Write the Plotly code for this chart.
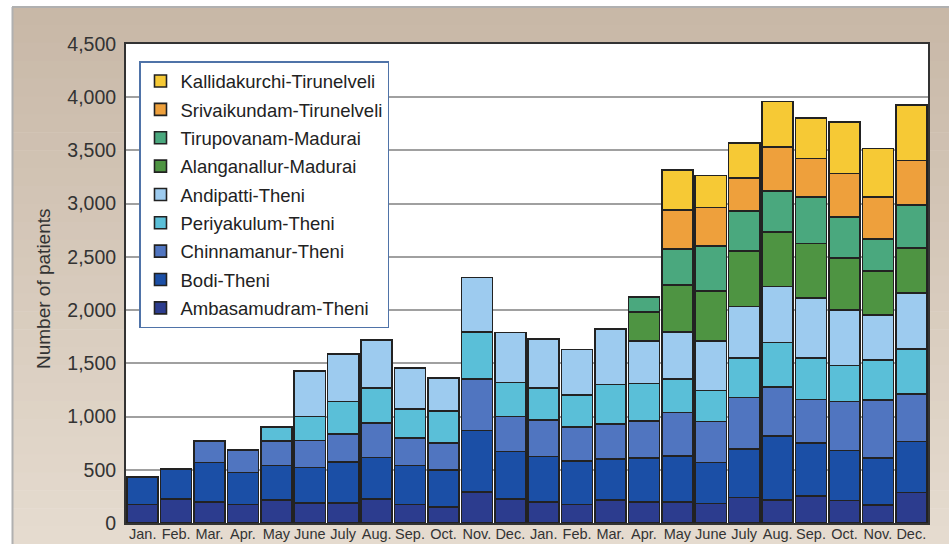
import plotly.graph_objects as go

months = ["Jan.", "Feb.", "Mar.", "Apr.", "May", "June", "July", "Aug.", "Sep.", "Oct.", "Nov.", "Dec.",
          "Jan.", "Feb.", "Mar.", "Apr.", "May", "June", "July", "Aug.", "Sep.", "Oct.", "Nov.", "Dec."]

ambasamudram = [175, 225, 200, 175, 215, 190, 190, 225, 175, 150, 290, 225,
                200, 175, 215, 200, 200, 185, 240, 215, 255, 210, 170, 285]
bodi = [260, 285, 370, 300, 325, 330, 385, 390, 365, 350, 580, 445,
        425, 410, 385, 410, 430, 385, 455, 600, 495, 470, 440, 480]
chinnamanur = [0, 0, 200, 210, 232, 255, 260, 325, 257, 250, 485, 330,
               345, 315, 330, 350, 410, 385, 485, 460, 410, 460, 545, 445]
periyakulum = [0, 0, 0, 0, 128, 225, 305, 330, 275, 300, 440, 320,
               300, 300, 370, 350, 315, 290, 370, 420, 390, 340, 375, 425]
andipatti = [0, 0, 0, 0, 0, 430, 450, 450, 385, 315, 510, 470,
             460, 430, 525, 400, 440, 465, 485, 525, 565, 520, 425, 525]
alanganallur = [0] * 15 + [275, 440, 470, 520, 515, 510, 490, 415, 425]
tirupovanam = [0] * 15 + [140, 340, 420, 375, 385, 440, 385, 300, 405]
srivaikundam = [0] * 16 + [365, 365, 310, 410, 360, 410, 390, 415]
kallidakurchi = [0] * 16 + [375, 300, 330, 430, 380, 485, 460, 520]

series = [
    ("Ambasamudram-Theni", ambasamudram, "#2c3c8e"),
    ("Bodi-Theni", bodi, "#1b4fa6"),
    ("Chinnamanur-Theni", chinnamanur, "#5075c0"),
    ("Periyakulum-Theni", periyakulum, "#5abfd8"),
    ("Andipatti-Theni", andipatti, "#9dcbef"),
    ("Alanganallur-Madurai", alanganallur, "#4e9442"),
    ("Tirupovanam-Madurai", tirupovanam, "#4aa87e"),
    ("Srivaikundam-Tirunelveli", srivaikundam, "#eea03c"),
    ("Kallidakurchi-Tirunelveli", kallidakurchi, "#f6c935"),
]

FONT = "Liberation Sans, Arial, sans-serif"
xs = list(range(len(months)))

fig = go.Figure()
for i, (name, vals, col) in enumerate(series):
    ys = [v if v > 0 else None for v in vals]
    fig.add_trace(go.Bar(
        x=xs, y=ys, name=name, legendgroup=name, legendrank=1000 - i,
        marker=dict(color=col, line=dict(color="#222222", width=1.6)),
    ))

# beige gradient background (paper coords relative to plot area)
shapes = []
L, R = 126, 928
T, B = 44, 523
W, H = R - L, B - T
def px_x(p):
    return (p - L) / W
def px_y(p):
    return (B - p) / H
top_c = (200, 184, 167)
bot_c = (229, 219, 207)
n = 30
y0p, y1p = 7, 544
for i in range(n):
    t = i / (n - 1)
    c = tuple(int(round(top_c[k] + (bot_c[k] - top_c[k]) * t)) for k in range(3))
    ya = y0p + (y1p - y0p) * i / n
    yb = y0p + (y1p - y0p) * (i + 1) / n + 0.5
    shapes.append(dict(type="rect", xref="paper", yref="paper",
                       x0=px_x(12), x1=px_x(949), y0=px_y(yb), y1=px_y(ya),
                       fillcolor="rgb(%d,%d,%d)" % c, line=dict(width=0), layer="below"))
shapes.append(dict(type="line", xref="paper", yref="paper",
                   x0=px_x(12), x1=px_x(949), y0=px_y(7), y1=px_y(7),
                   line=dict(color="#b0b0b0", width=2), layer="below"))
shapes.append(dict(type="line", xref="paper", yref="paper",
                   x0=px_x(12.5), x1=px_x(12.5), y0=px_y(7), y1=px_y(544),
                   line=dict(color="#b0b0b0", width=2), layer="below"))
shapes.append(dict(type="rect", xref="paper", yref="paper", x0=0, x1=1, y0=0, y1=1,
                   fillcolor="white", line=dict(width=0), layer="below"))

fig.update_layout(
    width=949, height=544,
    margin=dict(l=L, r=949 - R, t=T, b=544 - B, autoexpand=False),
    barmode="stack", bargap=0.07,
    paper_bgcolor="white", plot_bgcolor="rgba(0,0,0,0)",
    shapes=shapes,
    font=dict(family=FONT, color="#333333"),
    showlegend=True,
    legend=dict(
        x=px_x(139), y=px_y(61), xanchor="left", yanchor="top",
        traceorder="grouped", bgcolor="white",
        bordercolor="#4f73a8", borderwidth=1.5,
        font=dict(family=FONT, size=18.5, color="#222222"),
        itemwidth=30, tracegroupgap=1.3,
    ),
    annotations=[dict(
        text="Number of patients", textangle=-90, showarrow=False,
        xref="paper", yref="paper", x=px_x(43), y=px_y(289),
        xanchor="center", yanchor="middle",
        font=dict(family=FONT, size=19, color="#333333"),
    )],
)
fig.update_xaxes(
    range=[-0.5, 23.5], tickmode="array", tickvals=xs, ticktext=months,
    showgrid=False, showline=True, linecolor="#333333", linewidth=2, mirror=True,
    ticks="", tickangle=0, automargin=False, ticklabelstandoff=-3,
    tickfont=dict(family=FONT, size=14.5, color="#333333"),
    zeroline=False,
)
fig.update_yaxes(
    range=[0, 4500], tickmode="array", tickvals=list(range(0, 4501, 500)),
    tickformat=",d", showgrid=True, gridcolor="#a0a0a0", gridwidth=1.5,
    showline=True, linecolor="#333333", linewidth=2, mirror=True,
    ticks="", ticklen=0, automargin=False, ticklabelstandoff=4,
    tickfont=dict(family=FONT, size=19.5, color="#333333"),
    zeroline=False,
)

fig.write_html("out.html")
